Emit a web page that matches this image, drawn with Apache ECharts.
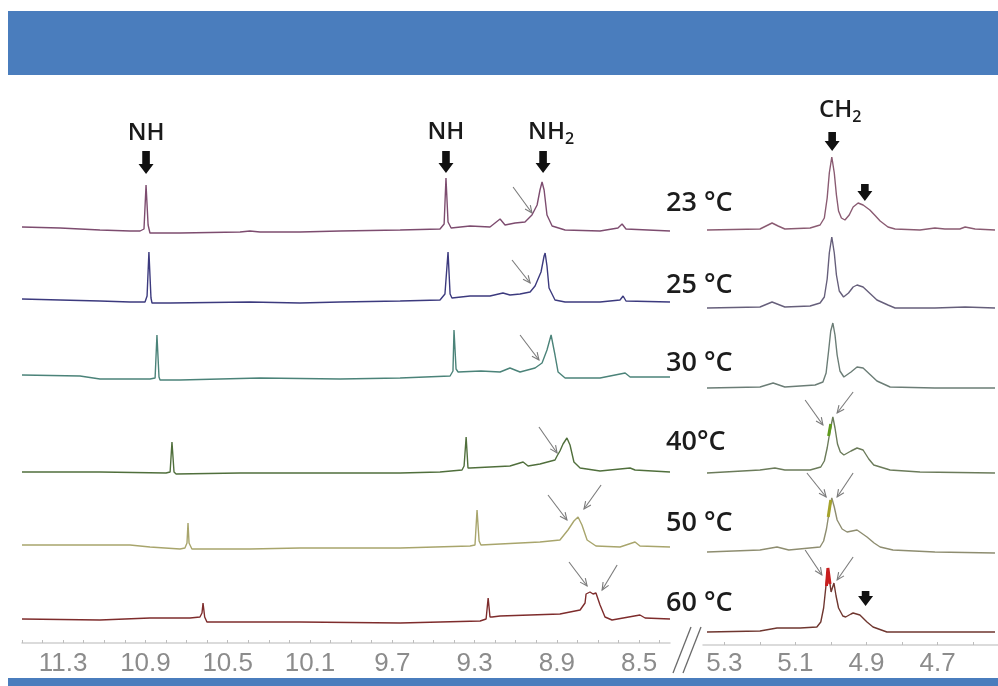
<!DOCTYPE html>
<html><head><meta charset="utf-8">
<script src="https://cdn.jsdelivr.net/npm/echarts@6/dist/echarts.min.js"></script>
<style>html,body{margin:0;padding:0;background:#fff;overflow:hidden}#c{width:998px;height:686px}</style>
</head><body><div id="c"></div>
<script>
// ---- data (ppm, intensity above baseline) ----
const temperatures = ['23 °C', '25 °C', '30 °C', '40°C', '50 °C', '60 °C'];
const leftTicks = [11.3, 10.9, 10.5, 10.1, 9.7, 9.3, 8.9, 8.5];
const rightTicks = [5.3, 5.1, 4.9, 4.7];

const left23 = [[11.500,7],[11.315,6],[11.121,4],[10.975,3],[10.926,3],[10.907,5],[10.897,49],[10.887,9],[10.878,1],[10.732,1],[10.440,2],[10.392,3],[10.343,2],[10.149,2],[9.954,3],[9.662,4],[9.468,5],[9.448,10],[9.439,56],[9.429,12],[9.414,6],[9.322,8],[9.225,7],[9.176,15],[9.152,9],[9.103,11],[9.055,12],[9.021,19],[8.996,29],[8.982,44],[8.972,52],[8.962,44],[8.948,19],[8.923,8],[8.860,4],[8.690,3],[8.603,6],[8.583,10],[8.564,5],[8.350,3]];
const left25 = [[11.500,7],[11.315,6],[11.121,5],[10.975,4],[10.902,4],[10.892,10],[10.883,54],[10.873,8],[10.868,3],[10.780,3],[10.392,4],[10.149,3],[9.954,4],[9.662,5],[9.468,6],[9.444,12],[9.429,54],[9.419,12],[9.410,8],[9.322,10],[9.225,10],[9.162,13],[9.128,11],[9.079,12],[9.030,14],[9.006,20],[8.977,34],[8.962,50],[8.957,53],[8.948,40],[8.938,18],[8.909,6],[8.860,4],[8.690,4],[8.593,6],[8.578,10],[8.564,5],[8.350,4]];
const left30 = [[11.500,6],[11.218,5],[11.121,2],[10.878,2],[10.853,3],[10.844,46],[10.834,4],[10.829,1],[10.732,1],[10.343,3],[9.954,2],[9.662,3],[9.419,5],[9.405,10],[9.400,51],[9.390,12],[9.380,9],[9.269,10],[9.176,9],[9.128,13],[9.079,9],[9.006,13],[8.972,18],[8.948,31],[8.928,46],[8.909,26],[8.894,9],[8.860,3],[8.690,3],[8.568,8],[8.544,4],[8.350,4]];
const left40 = [[11.500,4],[11.121,4],[10.800,3],[10.780,4],[10.771,34],[10.761,4],[10.751,2],[10.440,3],[10.149,3],[9.662,3],[9.468,4],[9.361,6],[9.351,10],[9.341,39],[9.332,8],[9.322,8],[9.225,9],[9.128,10],[9.064,14],[9.040,10],[8.982,12],[8.909,16],[8.899,20],[8.885,25],[8.870,32],[8.851,38],[8.836,31],[8.817,14],[8.787,8],[8.690,5],[8.544,8],[8.535,9],[8.520,6],[8.350,4]];
const left50 = [[11.500,6],[10.975,6],[10.878,4],[10.732,2],[10.708,3],[10.698,8],[10.693,28],[10.688,8],[10.674,2],[10.392,2],[10.149,3],[9.662,3],[9.322,5],[9.298,6],[9.288,41],[9.278,10],[9.269,6],[9.176,7],[8.982,9],[8.885,11],[8.846,21],[8.817,30],[8.797,34],[8.778,26],[8.753,11],[8.710,5],[8.593,4],[8.520,9],[8.496,5],[8.350,4]];
const left60 = [[11.500,6],[11.121,5],[10.878,7],[10.683,7],[10.635,8],[10.625,12],[10.620,22],[10.612,8],[10.601,3],[10.489,3],[10.149,3],[9.662,2],[9.273,4],[9.244,6],[9.234,27],[9.225,8],[9.215,8],[9.176,9],[8.885,11],[8.787,15],[8.763,22],[8.758,31],[8.739,33],[8.724,31],[8.710,32],[8.690,20],[8.666,8],[8.632,5],[8.496,10],[8.471,7],[8.350,6]];

const right23 = [[5.350,3],[5.201,4],[5.184,7],[5.167,10],[5.150,7],[5.131,4],[5.060,5],[5.032,8],[5.020,15],[5.012,35],[5.006,60],[4.999,76],[4.992,60],[4.986,38],[4.980,22],[4.972,15],[4.962,13],[4.950,18],[4.939,26],[4.925,30],[4.911,28],[4.892,23],[4.876,17],[4.863,12],[4.841,6],[4.821,4],[4.751,3],[4.709,5],[4.681,4],[4.639,4],[4.624,6],[4.596,4],[4.540,3]];
const right25 = [[5.350,3],[5.201,4],[5.167,9],[5.131,4],[5.060,5],[5.032,8],[5.020,14],[5.012,32],[5.006,58],[4.999,74],[4.992,58],[4.986,36],[4.978,20],[4.966,14],[4.952,18],[4.939,24],[4.928,26],[4.911,24],[4.890,17],[4.872,11],[4.841,6],[4.821,3],[4.709,3],[4.624,4],[4.540,3]];
const right30 = [[5.350,3],[5.201,4],[5.164,8],[5.131,4],[5.046,6],[5.024,9],[5.015,18],[5.008,40],[5.002,60],[4.996,68],[4.990,56],[4.984,36],[4.976,20],[4.965,14],[4.945,19],[4.928,24],[4.911,23],[4.890,16],[4.872,10],[4.835,4],[4.709,3],[4.540,3]];
const right40 = [[5.350,3],[5.201,6],[5.159,8],[5.131,6],[5.060,6],[5.030,9],[5.020,15],[5.012,28],[5.004,45],[4.996,59],[4.990,48],[4.983,32],[4.975,24],[4.965,21],[4.945,25],[4.928,28],[4.911,26],[4.895,17],[4.881,11],[4.835,6],[4.751,4],[4.540,3]];
const right50 = [[5.350,3],[5.201,5],[5.153,8],[5.120,5],[5.032,8],[5.022,14],[5.014,26],[5.006,44],[4.999,57],[4.992,48],[4.984,35],[4.970,26],[4.956,23],[4.928,25],[4.900,18],[4.880,12],[4.863,8],[4.827,5],[4.709,3],[4.540,2]];
const right60 = [[5.350,4],[5.201,5],[5.153,8],[5.088,8],[5.041,9],[5.030,14],[5.022,28],[5.014,55],[5.010,68],[5.004,52],[5.001,44],[4.993,53],[4.987,40],[4.980,28],[4.968,20],[4.960,19],[4.945,22],[4.939,23],[4.920,21],[4.900,14],[4.883,9],[4.844,4],[4.540,4]];

const mark40 = [[5.008,40],[5.002,52]];
const mark50 = [[5.009,38],[5.002,55]];
const mark60 = [[5.014,50],[5.010,68],[5.004,52]];

// ---- layout ----
const leftSpectra = [left23, left25, left30, left40, left50, left60];
const rightSpectra = [right23, right25, right30, right40, right50, right60];
const leftBase = [234, 306, 381, 476, 551, 625];
const rightBase = [233, 311, 391, 476, 555, 636];
const labelY = [203, 285, 363, 442, 523, 603];
const leftColors = ['#7d4c6f', '#3c3a7e', '#4b8379', '#506f3c', '#a8a56c', '#7e2c2c'];
const rightColors = ['#8a5b72', '#665f7b', '#6b7d76', '#6b7b5a', '#8e8d70', '#6f362f'];
const LX = [8.35, 11.5], RX = [4.54, 5.35];

const grids = [], xAxes = [], yAxes = [], series = [];
for (let i = 0; i < 6; i++) {
  grids.push({ left: 22, width: 648, top: leftBase[i] - 100, height: 100 });
  xAxes.push({ gridIndex: i, type: 'value', min: LX[0], max: LX[1], inverse: true, show: false });
  yAxes.push({ gridIndex: i, type: 'value', min: 0, max: 100, show: false });
  series.push({ type: 'line', xAxisIndex: i, yAxisIndex: i, data: leftSpectra[i], symbol: 'none', silent: true,
    lineStyle: { width: 1.4, color: leftColors[i] } });
}
for (let i = 0; i < 6; i++) {
  const g = 6 + i;
  grids.push({ left: 707, width: 288, top: rightBase[i] - 100, height: 100 });
  xAxes.push({ gridIndex: g, type: 'value', min: RX[0], max: RX[1], inverse: true, show: false });
  yAxes.push({ gridIndex: g, type: 'value', min: 0, max: 100, show: false });
  series.push({ type: 'line', xAxisIndex: g, yAxisIndex: g, data: rightSpectra[i], symbol: 'none', silent: true,
    lineStyle: { width: 1.4, color: rightColors[i] } });
}
[[9, mark40, '#5f9a1c'], [10, mark50, '#a5a22a'], [11, mark60, '#c81e1e']].forEach(([g, d, c]) => {
  series.push({ type: 'line', xAxisIndex: g, yAxisIndex: g, data: d, symbol: 'none', silent: true, lineStyle: { width: 3, color: c } });
});

// axis grids
const tickFont = { color: '#8c8c8c', fontSize: 26, fontFamily: '"Liberation Sans Narrow", "Liberation Sans", sans-serif' };
function minorList(lo, hi) { const a = []; for (let v = Math.ceil(lo * 10); v <= Math.floor(hi * 10); v++) a.push(v / 10); return a; }
grids.push({ left: 22, width: 648, top: 600, height: 43 });
xAxes.push({ gridIndex: 12, type: 'value', min: LX[0], max: LX[1], inverse: true, position: 'bottom',
  axisLine: { show: true, lineStyle: { color: '#cfcfcf', width: 1.5 } },
  axisTick: { show: true, inside: true, length: 3, customValues: minorList(LX[0], LX[1]), lineStyle: { color: '#bdbdbd' } },
  axisLabel: { customValues: leftTicks, formatter: v => v.toFixed(1), margin: 8, ...tickFont },
  splitLine: { show: false } });
yAxes.push({ gridIndex: 12, type: 'value', show: false });
grids.push({ left: 703, width: 295, top: 602, height: 43 });
xAxes.push({ gridIndex: 13, type: 'value', min: 4.53, max: 5.36, inverse: true, position: 'bottom',
  axisLine: { show: true, lineStyle: { color: '#cfcfcf', width: 1.5 } },
  axisTick: { show: true, inside: true, length: 3, customValues: minorList(4.53, 5.36), lineStyle: { color: '#bdbdbd' } },
  axisLabel: { customValues: rightTicks, formatter: v => v.toFixed(1), margin: 6, ...tickFont },
  splitLine: { show: false } });
yAxes.push({ gridIndex: 13, type: 'value', show: false });

// annotations (data coordinates of the grid they belong to)
const thinArrows = [
  [0, [9.113, 47], [9.021, 21]],
  [1, [9.118, 46], [9.030, 23]],
  [2, [9.079, 46], [8.987, 21]],
  [3, [8.987, 49], [8.899, 23]],
  [4, [8.943, 56], [8.851, 31]], [4, [8.685, 66], [8.768, 42]],
  [5, [8.841, 63], [8.753, 39]], [5, [8.607, 60], [8.680, 35]],
  [9, [5.074, 76], [5.024, 51]], [9, [4.939, 84], [4.984, 63]],
  [10, [5.069, 82], [5.015, 58]], [10, [4.939, 82], [4.984, 58]],
  [11, [5.074, 86], [5.027, 61]], [11, [4.939, 79], [4.984, 56]]
];
const thickArrows = [
  { g: 0, ppm: 10.897, tail: 83, tip: 60, label: 'NH', at: 101 },
  { g: 0, ppm: 9.439, tail: 83, tip: 61, label: 'NH', at: 102 },
  { g: 0, ppm: 8.967, tail: 83, tip: 61, label: 'NH2', at: 102 },
  { g: 6, ppm: 4.998, tail: 101, tip: 82, label: 'CH2', at: 123 },
  { g: 6, ppm: 4.906, tail: 49, tip: 32 },
  { g: 11, ppm: 4.904, tail: 45, tip: 30 }
];

const chart = echarts.init(document.getElementById('c'));
chart.setOption({
  animation: false, backgroundColor: '#fff',
  grid: grids, xAxis: xAxes, yAxis: yAxes, series: series
});

const P = (g, pt) => chart.convertToPixel({ xAxisIndex: g, yAxisIndex: g }, pt);
const gfx = [];
gfx.push({ type: 'rect', shape: { x: 8, y: 11, width: 990, height: 64 }, style: { fill: '#4a7dbd' } });
gfx.push({ type: 'rect', shape: { x: 8, y: 678, width: 990, height: 8 }, style: { fill: '#4a7dbd' } });
// axis break
gfx.push({ type: 'line', shape: { x1: 673, y1: 673, x2: 691, y2: 627 }, style: { stroke: '#6a6a6a', lineWidth: 1.3 } });
gfx.push({ type: 'line', shape: { x1: 683, y1: 673, x2: 701, y2: 627 }, style: { stroke: '#6a6a6a', lineWidth: 1.3 } });

thinArrows.forEach(([g, a, b]) => {
  const p = P(g, a), q = P(g, b);
  const ang = Math.atan2(q[1] - p[1], q[0] - p[0]);
  const L = 8, w = 0.42;
  gfx.push({ type: 'polyline', shape: { points: [p, q] }, style: { stroke: '#7a7a7a', lineWidth: 1.1, fill: null } });
  gfx.push({ type: 'polyline', shape: { points: [
    [q[0] - L * Math.cos(ang - w), q[1] - L * Math.sin(ang - w)], q,
    [q[0] - L * Math.cos(ang + w), q[1] - L * Math.sin(ang + w)] ] },
    style: { stroke: '#7a7a7a', lineWidth: 1.1, fill: null } });
});
thickArrows.forEach(t => {
  const [x, yTail] = P(t.g, [t.ppm, t.tail]);
  const yTip = P(t.g, [t.ppm, t.tip])[1];
  const hl = 10, hw = 7.5, sw = 3.8;
  gfx.push({ type: 'polygon', shape: { points: [[x - sw, yTail], [x + sw, yTail], [x + sw, yTip - hl], [x + hw, yTip - hl], [x, yTip], [x - hw, yTip - hl], [x - sw, yTip - hl]] },
    style: { fill: '#111' } });
  if (t.label) {
    const y = P(t.g, [t.ppm, t.at])[1];
    const sub = t.label.endsWith('2');
    const main = sub ? t.label.slice(0, -1) : t.label;
    gfx.push({ type: 'text', x: x + (sub ? 8 : 0), y: y, style: {
      text: sub ? main + '{s|2}' : main,
      rich: { s: { fontSize: 16, fontFamily: 'Open Sans', fontWeight: 600, fill: '#1a1a1a', padding: [14, 0, 0, 0] } },
      fontSize: 24, fontFamily: 'Open Sans', fontWeight: 600, fill: '#1a1a1a', align: 'center', verticalAlign: 'middle' } });
  }
});
temperatures.forEach((t, i) => {
  gfx.push({ type: 'text', x: 666, y: labelY[i], style: { text: t, fontSize: 27, fontFamily: 'Open Sans', fontWeight: 600, fill: '#1c1c1c', align: 'left', verticalAlign: 'middle' } });
});
chart.setOption({ graphic: gfx });
</script></body></html>
